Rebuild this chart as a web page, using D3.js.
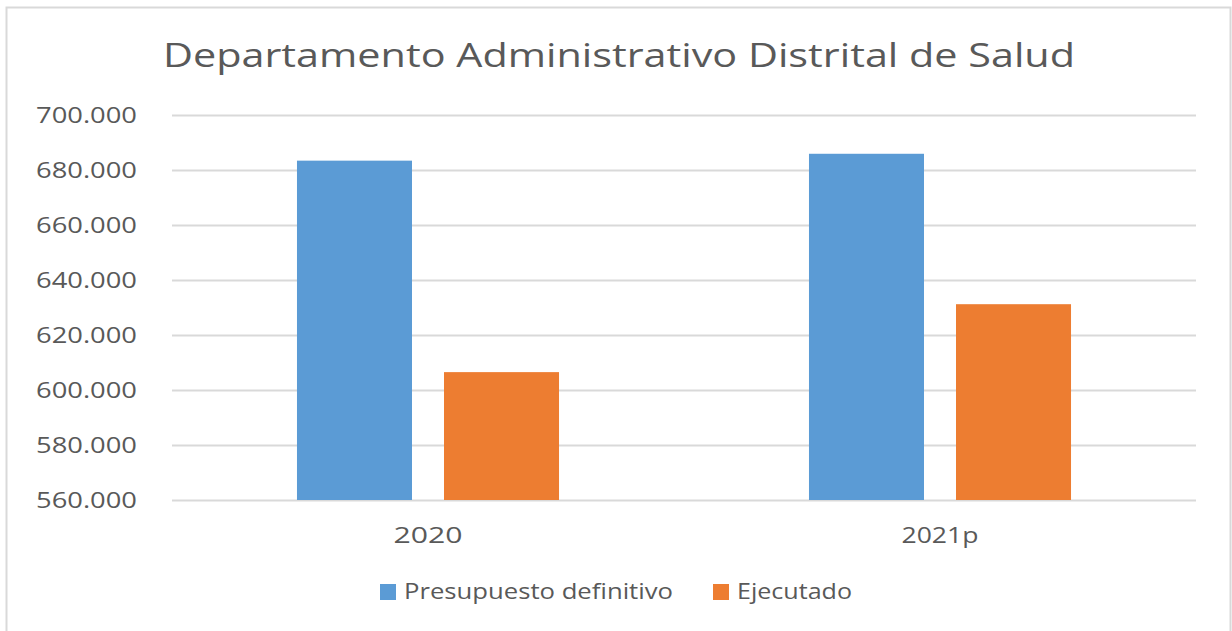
<!DOCTYPE html>
<html>
<head>
<meta charset="utf-8">
<script src="https://cdn.jsdelivr.net/npm/d3@7"></script>
<style>
  html, body { margin: 0; padding: 0; background: #fff; }
  svg { display: block; }
  text { font-family: "Open Sans", "Segoe UI", sans-serif; fill: #595959; }
</style>
</head>
<body>
<svg id="chart" width="1232" height="631"></svg>
<script>
const title = "Departamento Administrativo Distrital de Salud";
const categories = ["2020", "2021p"];
const seriesNames = ["Presupuesto definitivo", "Ejecutado"];
const presupuesto = [683400, 685900];
const ejecutado = [606500, 631200];
const yTicks = [560000, 580000, 600000, 620000, 640000, 660000, 680000, 700000];
const colors = ["#5b9bd5", "#ed7d31"];

const svg = d3.select("#chart");
const plot = { left: 172, right: 1196, top: 115, bottom: 500 };

// frame
svg.append("rect").attr("x", 6.5).attr("y", 7.5).attr("width", 1224).attr("height", 660)
  .attr("fill", "#fff").attr("stroke", "#d9d9d9").attr("stroke-width", 2);

const locale = d3.formatLocale({ decimal: ",", thousands: ".", grouping: [3], currency: ["$", ""] });
const fmt = locale.format(",.0f");

const y = d3.scaleLinear().domain([560000, 700000]).range([plot.bottom, plot.top]);
const x0 = d3.scaleBand().domain(categories).range([plot.left, plot.right]).paddingInner(0).paddingOuter(0);
const x1 = d3.scaleBand().domain(seriesNames).range([0, x0.bandwidth()]).paddingInner(0.2177).paddingOuter(0.85);

// gridlines
const grid = svg.append("g").attr("transform", `translate(${plot.left},0)`)
  .call(d3.axisLeft(y).tickValues(yTicks).tickSize(-(plot.right - plot.left)).tickFormat(""));
grid.select(".domain").remove();
grid.selectAll("line").attr("stroke", "#d9d9d9").attr("stroke-width", 2);

// y labels (reference font is wider, so fix text widths)
const yAxis = svg.append("g").attr("transform", `translate(137,0)`)
  .call(d3.axisLeft(y).tickValues(yTicks).tickSize(0).tickPadding(0).tickFormat(fmt));
yAxis.select(".domain").remove();
yAxis.selectAll("text").attr("font-size", 21).attr("fill", "#595959")
  .attr("font-family", "'Open Sans', sans-serif").attr("dy", "0.36em")
  .attr("textLength", 101).attr("lengthAdjust", "spacingAndGlyphs");

// bars
const data = categories.map((c, i) => ({ cat: c, vals: [presupuesto[i], ejecutado[i]] }));
const groups = svg.append("g").selectAll("g").data(data).join("g")
  .attr("transform", d => `translate(${x0(d.cat)},0)`);
groups.selectAll("rect").data(d => d.vals.map((v, j) => ({ v, s: seriesNames[j], j })))
  .join("rect")
  .attr("x", d => x1(d.s))
  .attr("width", x1.bandwidth())
  .attr("y", d => y(d.v))
  .attr("height", d => y(560000) - y(d.v))
  .attr("fill", d => colors[d.j]);

// x axis labels
const xLabelWidths = [69, 77];
const xAxis = svg.append("g").attr("transform", `translate(0,${plot.bottom})`)
  .call(d3.axisBottom(x0).tickSize(0).tickPadding(0));
xAxis.select(".domain").remove();
xAxis.selectAll("text").attr("font-size", 21).attr("fill", "#595959")
  .attr("font-family", "'Open Sans', sans-serif").attr("dy", null).attr("y", 43)
  .attr("textLength", (d, i) => xLabelWidths[i]).attr("lengthAdjust", "spacingAndGlyphs");

// title
svg.append("text").attr("x", 619).attr("y", 67).attr("text-anchor", "middle")
  .attr("font-size", 33).attr("textLength", 912).attr("lengthAdjust", "spacingAndGlyphs")
  .text(title);

// legend
const legendItems = [
  { name: seriesNames[0], color: colors[0], x: 380, w: 269 },
  { name: seriesNames[1], color: colors[1], x: 713, w: 115 }
];
const leg = svg.append("g");
legendItems.forEach(it => {
  leg.append("rect").attr("x", it.x).attr("y", 584).attr("width", 16).attr("height", 16).attr("fill", it.color);
  leg.append("text").attr("x", it.x + 24).attr("y", 599).attr("font-size", 21)
    .attr("textLength", it.w).attr("lengthAdjust", "spacingAndGlyphs").text(it.name);
});
</script>
</body>
</html>
